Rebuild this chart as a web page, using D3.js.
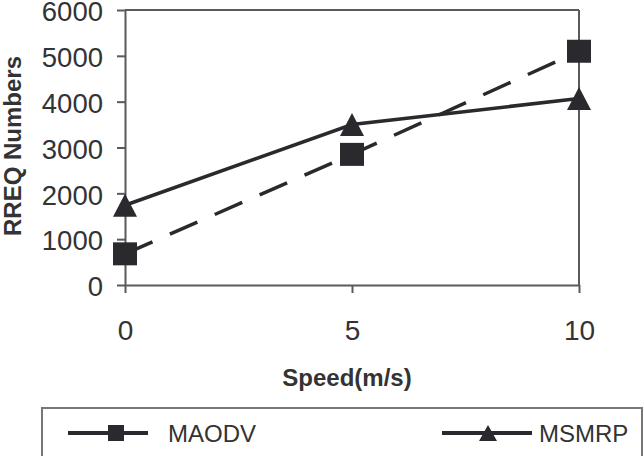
<!DOCTYPE html>
<html>
<head>
<meta charset="utf-8">
<script src="https://cdn.jsdelivr.net/npm/d3@7/dist/d3.min.js"></script>
<style>
  html, body { margin: 0; padding: 0; background: #fff; }
  svg { display: block; font-family: "Liberation Sans", Arial, sans-serif; }
</style>
</head>
<body>
<svg id="chart" width="644" height="456"></svg>
<script>
const speeds = [0, 5, 10];
const maodv = [680, 2850, 5100];
const msmrp = [1740, 3500, 4070];
const yTicks = [0, 1000, 2000, 3000, 4000, 5000, 6000];
const xTicks = [0, 5, 10];
const seriesNames = ["MAODV", "MSMRP"];

const svg = d3.select("#chart");
const ink = "#2a2a2e";
const axisCol = "#5a5a5a";
const textCol = "#333";

const x = d3.scaleLinear().domain([0, 10]).range([125, 579]);
const y = d3.scaleLinear().domain([0, 6000]).range([285, 10]);

// frame (top and right)
svg.append("line").attr("x1", x(0)).attr("x2", x(10)).attr("y1", y(6000)).attr("y2", y(6000))
  .attr("stroke", axisCol).attr("stroke-width", 2);
svg.append("line").attr("x1", x(10)).attr("x2", x(10)).attr("y1", y(6000)).attr("y2", y(0))
  .attr("stroke", axisCol).attr("stroke-width", 2);

// y axis
const gy = svg.append("g").attr("transform", `translate(${x(0)},0)`)
  .call(d3.axisLeft(y).tickValues(yTicks).tickFormat(d3.format("d")).tickSize(8).tickPadding(14).tickSizeOuter(0));
// x axis
const gx = svg.append("g").attr("transform", `translate(0,${y(0)})`)
  .call(d3.axisBottom(x).tickValues(xTicks).tickSize(8).tickPadding(27).tickSizeOuter(0));

[gy, gx].forEach(g => {
  g.select(".domain").attr("stroke", axisCol).attr("stroke-width", 2);
  g.selectAll(".tick line").attr("stroke", axisCol).attr("stroke-width", 2);
  g.selectAll(".tick text").attr("fill", textCol).style("font-size", "28px")
    .style("font-family", '"Liberation Sans", Arial, sans-serif');
});
gy.selectAll(".tick text").style("font-size", "27.5px").attr("dy", "0.39em");

// axis titles
svg.append("text").attr("transform", `translate(21,146) rotate(-90)`)
  .attr("text-anchor", "middle").attr("fill", textCol)
  .style("font-size", "24px").style("font-weight", "bold").text("RREQ Numbers");
svg.append("text").attr("x", 347).attr("y", 386)
  .attr("text-anchor", "middle").attr("fill", textCol)
  .style("font-size", "24px").style("font-weight", "bold").text("Speed(m/s)");

// lines
const line = d3.line().x((d, i) => x(speeds[i])).y(d => y(d));
svg.append("path").datum(msmrp).attr("d", line).attr("fill", "none")
  .attr("stroke", ink).attr("stroke-width", 3.5);
svg.append("path").datum(maodv).attr("d", line).attr("fill", "none")
  .attr("stroke", ink).attr("stroke-width", 3.5).attr("stroke-dasharray", "30,19");

function squarePath(w, h) { return `M${-w/2},${-h/2}h${w}v${h}h${-w}Z`; }
function triPath(w, h) { return `M0,${-h/2}L${w/2},${h/2}L${-w/2},${h/2}Z`; }

// markers
svg.append("g").selectAll("path").data(maodv).join("path")
  .attr("transform", (d, i) => `translate(${x(speeds[i])},${y(d)})`)
  .attr("d", squarePath(24, 23)).attr("fill", ink);
svg.append("g").selectAll("path").data(msmrp).join("path")
  .attr("transform", (d, i) => `translate(${x(speeds[i])},${y(d)})`)
  .attr("d", triPath(24, 23)).attr("fill", ink);

// legend
svg.append("path").attr("d", "M42,460V408H642V460")
  .attr("fill", "none").attr("stroke", "#777").attr("stroke-width", 2);
const legY = 433;
svg.append("line").attr("x1", 68).attr("x2", 148).attr("y1", legY).attr("y2", legY)
  .attr("stroke", ink).attr("stroke-width", 4);
svg.append("path").attr("transform", `translate(116,${legY})`).attr("d", squarePath(16, 16)).attr("fill", ink);
svg.append("text").attr("x", 168).attr("y", 442).attr("fill", textCol)
  .style("font-size", "24px").text(seriesNames[0]);

svg.append("line").attr("x1", 442).attr("x2", 532).attr("y1", legY).attr("y2", legY)
  .attr("stroke", ink).attr("stroke-width", 4);
svg.append("path").attr("transform", `translate(488,${legY})`).attr("d", triPath(18, 16)).attr("fill", ink);
svg.append("text").attr("x", 539).attr("y", 442).attr("fill", textCol)
  .style("font-size", "24px").text(seriesNames[1]);
</script>
</body>
</html>
